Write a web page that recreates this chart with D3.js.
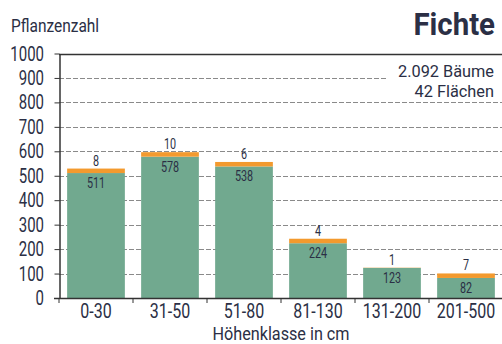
<!DOCTYPE html>
<html>
<head>
<meta charset="utf-8">
<script src="https://cdn.jsdelivr.net/npm/d3@7"></script>
<style>
  body { margin: 0; background: #fff; }
  text { font-family: Roboto, "Liberation Sans", sans-serif; fill: #2b2f45; }
</style>
</head>
<body>
<div class="chart_box"></div>
<script>
var categories = ["0-30", "31-50", "51-80", "81-130", "131-200", "201-500"];
var greenValues = [511, 578, 538, 224, 123, 82];
var orangeValues = [8, 10, 6, 4, 1, 7];
var yTicks = [0, 100, 200, 300, 400, 500, 600, 700, 800, 900, 1000];

var width = 502, height = 344;
var plotLeft = 59, plotRight = 503, plotTop = 53.5, plotBottom = 298;

var svg = d3.select(".chart_box").append("svg")
    .attr("width", width)
    .attr("height", height);

// condensed looking text: squeeze horizontally
function addText(parent, x, y, str, size, anchor, sx, weight) {
    return parent.append("text")
        .attr("transform", "translate(" + x + "," + y + ") scale(" + sx + ",1)")
        .attr("text-anchor", anchor)
        .attr("font-size", size + "px")
        .attr("font-weight", weight || "normal")
        .text(str);
}

var x = d3.scaleBand()
    .domain(categories)
    .range([plotLeft, plotRight])
    .paddingInner(0.22)
    .paddingOuter(0.11);

var y = d3.scaleLinear()
    .domain([0, 1000])
    .range([plotBottom, plotTop]);

// gridlines
svg.append("g").selectAll("line")
    .data(yTicks.filter(function(d){ return d > 0; }))
    .enter().append("line")
    .attr("x1", plotLeft)
    .attr("x2", width)
    .attr("y1", function(d){ return Math.round(y(d)) + 0.5; })
    .attr("y2", function(d){ return Math.round(y(d)) + 0.5; })
    .style("stroke", function(d){ return d == 1000 ? "#333" : "#8a8a8a"; })
    .style("stroke-width", function(d){ return d == 1000 ? 1.5 : 1; })
    .style("stroke-dasharray", function(d){ return d == 1000 ? null : "5,2"; });

// white box behind the note
svg.append("rect")
    .attr("x", 386).attr("y", 62)
    .attr("width", 116).attr("height", 38)
    .attr("fill", "#fff");

// bars
var bars = svg.append("g").selectAll("g")
    .data(categories)
    .enter().append("g");

bars.append("rect")
    .attr("x", function(d){ return x(d); })
    .attr("width", x.bandwidth())
    .attr("y", function(d, i){ return y(greenValues[i]); })
    .attr("height", function(d, i){ return y(0) - y(greenValues[i]); })
    .attr("fill", "#71a98f");

// orange cap, kept a few pixels thick so it stays visible
function capHeight(i) {
    var h = y(0) - y(orangeValues[i]);
    return orangeValues[i] > 1 ? Math.max(h, 4.5) : h;
}

bars.append("rect")
    .attr("x", function(d){ return x(d); })
    .attr("width", x.bandwidth())
    .attr("y", function(d, i){ return y(greenValues[i]) - capHeight(i); })
    .attr("height", function(d, i){ return capHeight(i); })
    .attr("fill", "#f39a2e");

bars.each(function(d, i) {
    var g = d3.select(this);
    var cx = x(d) + x.bandwidth() / 2;
    addText(g, cx, y(greenValues[i]) - capHeight(i) - 3, orangeValues[i], 15, "middle", 0.72);
    addText(g, cx, y(greenValues[i]) + 15, greenValues[i], 15, "middle", 0.72);
});

// y axis
var yAxis = svg.append("g")
    .attr("transform", "translate(" + (plotLeft + 0.5) + ",0)")
    .call(d3.axisLeft(y).tickValues(yTicks).tickSize(5).tickSizeOuter(0).tickFormat(""));
yAxis.select(".domain").style("stroke", "#333").style("stroke-width", 1.5);
yAxis.selectAll(".tick line").style("stroke", "#333");

yTicks.forEach(function(d) {
    addText(svg, 44, y(d) + 7, d, 20, "end", 0.75);
});

// x axis
svg.append("line")
    .attr("x1", plotLeft - 5).attr("x2", plotRight)
    .attr("y1", plotBottom + 0.5).attr("y2", plotBottom + 0.5)
    .style("stroke", "#333").style("stroke-width", 1.5);

var step = x.step();
svg.append("g").selectAll("line")
    .data(categories)
    .enter().append("line")
    .attr("x1", function(d){ return x(d) - step * 0.11; })
    .attr("x2", function(d){ return x(d) - step * 0.11; })
    .attr("y1", plotBottom)
    .attr("y2", plotBottom + 5)
    .style("stroke", "#333");

categories.forEach(function(d) {
    addText(svg, x(d) + x.bandwidth() / 2, 318, d, 20, "middle", 0.8);
});

addText(svg, 281, 340, "Höhenklasse in cm", 18, "middle", 0.9);
addText(svg, 11, 32, "Pflanzenzahl", 18, "start", 0.86);
addText(svg, 495, 35, "Fichte", 32, "end", 0.92, "bold");
addText(svg, 494, 77, "2.092 Bäume", 17, "end", 0.96);
addText(svg, 494, 97, "42 Flächen", 17, "end", 0.96);
</script>
</body>
</html>
